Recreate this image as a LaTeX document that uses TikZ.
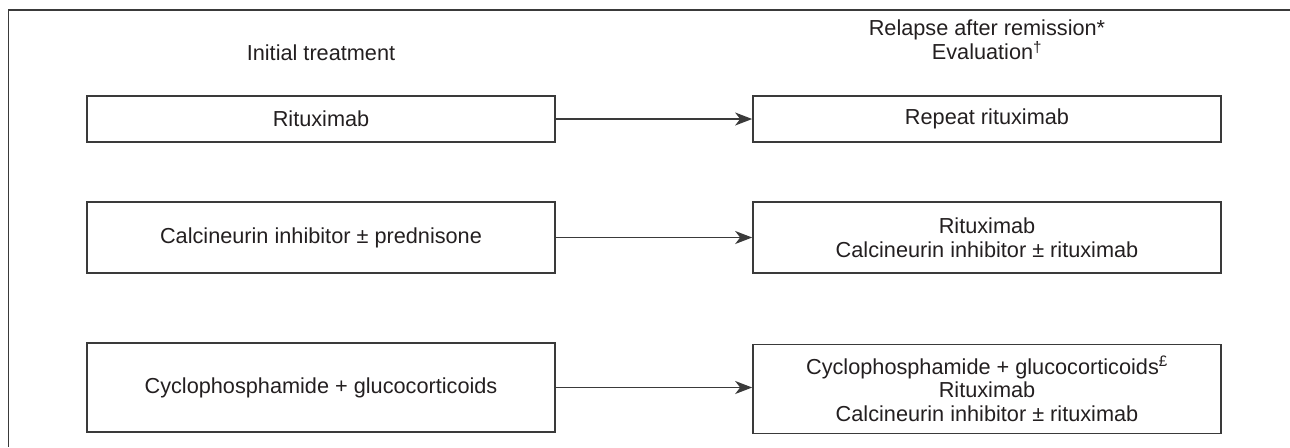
\documentclass[tikz,border=0pt]{standalone}
\usepackage{fontspec}
\setmainfont{Liberation Sans}
\usetikzlibrary{arrows.meta}
\definecolor{ink}{HTML}{231F20}
\definecolor{frame}{HTML}{3A3A3A}
\begin{document}
\begin{tikzpicture}[x=1pt,y=-1pt,
  box/.style={draw=frame, line width=1.7pt, rectangle, minimum width=468pt, inner sep=0pt,
    align=center, text=ink, font=\fontsize{21.7}{23.5}\selectfont},
  head/.style={text=ink, align=center, font=\fontsize{21.7}{22}\selectfont},
  link/.style={draw=frame, line width=1.5pt, -{Stealth[length=17pt,width=13pt,inset=5pt]}}]
\useasboundingbox (0,0) rectangle (1290,447);
\coordinate (ftop) at (1290,10);
\coordinate (fcorner) at (8.5,10);
\coordinate (fbot) at (8.5,447);
\draw[frame, line width=1.7pt] (ftop) -- (fcorner) -- (fbot);
\node[head] (h1) at (321,53) {Initial treatment};
\node[head] (h2) at (987,40) {Relapse after remission*\\Evaluation\textsuperscript{†}};
\node[box, minimum height=46pt] (l1) at (321,119) {Rituximab};
\node[box, minimum height=46pt] (r1) at (987,119) {Repeat rituximab};
\node[box, minimum height=71pt] (l2) at (321,237.5) {Calcineurin inhibitor ± prednisone};
\node[box, minimum height=71pt] (r2) at (987,237.5) {Rituximab\\Calcineurin inhibitor ± rituximab};
\node[box, minimum height=89pt] (l3) at (321,387.5) {Cyclophosphamide + glucocorticoids};
\node[box, minimum height=89pt] (r3) at (987,389) {Cyclophosphamide + glucocorticoids\textsuperscript{£}\\Rituximab\\Calcineurin inhibitor ± rituximab};
\draw[link] (l1.east) -- (r1.west);
\draw[link] (l2.east) -- (r2.west);
\draw[link] (l3.east) -- (l3.east -| r3.west);
\end{tikzpicture}
\end{document}
